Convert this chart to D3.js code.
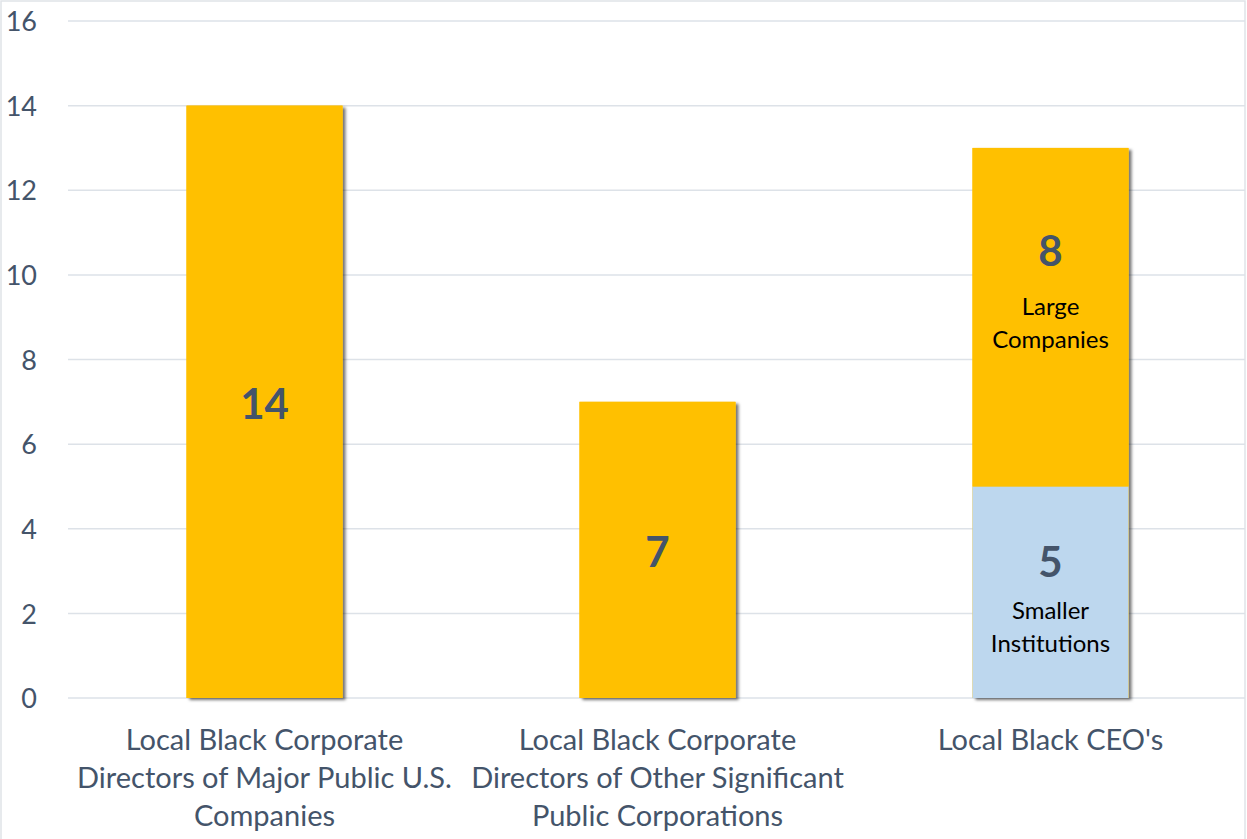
<!DOCTYPE html>
<html>
<head>
<meta charset="utf-8">
<script src="https://cdn.jsdelivr.net/npm/d3@7"></script>
<style>
  html, body { margin: 0; padding: 0; background: #fff; }
  svg { display: block; }
</style>
</head>
<body>
<svg id="chart" width="1247" height="839"></svg>
<script>
// Category labels (each entry is one wrapped line)
const categories = [
  ["Local Black Corporate", "Directors of Major Public U.S.", "Companies"],
  ["Local Black Corporate", "Directors of Other Significant", "Public Corporations"],
  ["Local Black CEO's"]
];
// Stacked series: lower segment then upper segment
const smallerValues = [0, 0, 5];
const upperValues = [14, 7, 8];
const yTicks = [0, 2, 4, 6, 8, 10, 12, 14, 16];
// Sub-labels shown inside the split bar
const upperNote = ["", "", "Large|Companies"];
const smallerNote = ["", "", "Smaller|Institutions"];

const svg = d3.select("#chart");
const W = 1247, H = 839;
const plot = { left: 68, right: 1247, top: 21, bottom: 698 };

const x = d3.scaleBand()
  .domain(d3.range(categories.length))
  .range([plot.left, plot.right])
  .paddingInner(0.603)
  .paddingOuter(0.3015);

const y = d3.scaleLinear().domain([0, 16]).range([plot.bottom, plot.top]);

const slate = "#44546A";
const font = "Lato, 'Open Sans', sans-serif";

// outer frame
svg.append("rect")
  .attr("x", 1).attr("y", 1).attr("width", W - 3).attr("height", H + 10)
  .attr("fill", "none").attr("stroke", "#dfe3e8").attr("stroke-width", 1.5);

// shadow filter for the bars
const defs = svg.append("defs");
const f = defs.append("filter").attr("id", "shadow")
  .attr("x", "-10%").attr("y", "-10%").attr("width", "130%").attr("height", "130%");
f.append("feDropShadow").attr("dx", 3).attr("dy", 2).attr("stdDeviation", 1.6)
  .attr("flood-color", "#000").attr("flood-opacity", 0.55);

// gridlines
svg.append("g").selectAll("line").data(yTicks).join("line")
  .attr("x1", plot.left).attr("x2", 1245)
  .attr("y1", d => y(d)).attr("y2", d => y(d))
  .attr("stroke", "#dde2e8").attr("stroke-width", 1.5);

// y axis labels
const yAxis = d3.axisLeft(y).tickValues(yTicks).tickSize(0).tickPadding(0);
const gy = svg.append("g").attr("transform", "translate(37,0)").call(yAxis);
gy.select(".domain").remove();
gy.selectAll("text")
  .attr("fill", slate).attr("font-family", font).attr("font-size", 27)
  .attr("dy", "0.36em");

// stacked data
const rows = categories.map((c, i) => ({ i, smaller: smallerValues[i], upper: upperValues[i] }));
const stack = d3.stack().keys(["smaller", "upper"])(rows);
const colors = { smaller: "#BDD7EE", upper: "#FFC000" };

const barG = svg.append("g");
// shadow drawn per whole bar
barG.selectAll("rect.sh").data(rows).join("rect")
  .attr("class", "sh")
  .attr("x", d => x(d.i)).attr("width", x.bandwidth())
  .attr("y", d => y(d.smaller + d.upper))
  .attr("height", d => y(0) - y(d.smaller + d.upper))
  .attr("fill", "#FFC000")
  .attr("filter", "url(#shadow)");

stack.forEach(s => {
  barG.selectAll(null).data(s.filter(d => d[1] > d[0])).join("rect")
    .attr("x", d => x(d.data.i)).attr("width", x.bandwidth())
    .attr("y", d => y(d[1])).attr("height", d => y(d[0]) - y(d[1]))
    .attr("fill", colors[s.key]);
});

// label block offsets (px from segment middle) and gap to the note text
const blockShift = { upper: -66, smaller: -30 };
const noteGap = { upper: 55, smaller: 48 };

// value labels
const labG = svg.append("g").attr("font-family", font).attr("text-anchor", "middle");
stack.forEach(s => {
  const notes = s.key === "upper" ? upperNote : smallerNote;
  s.filter(d => d[1] > d[0]).forEach(d => {
    const cx = x(d.data.i) + x.bandwidth() / 2;
    const val = d[1] - d[0];
    const note = notes[d.data.i];
    const mid = y((d[0] + d[1]) / 2);
    if (!note) {
      labG.append("text")
        .attr("x", cx).attr("y", mid + 2)
        .attr("dy", "0.36em")
        .attr("fill", slate).attr("font-weight", "bold").attr("font-size", 42)
        .text(val);
    } else {
      const top = mid + blockShift[s.key];
      labG.append("text")
        .attr("x", cx).attr("y", top)
        .attr("dy", "0.36em")
        .attr("fill", slate).attr("font-weight", "bold").attr("font-size", 42)
        .text(val);
      note.split("|").forEach((ln, k) => {
        labG.append("text")
          .attr("x", cx).attr("y", top + noteGap[s.key] + k * 33)
          .attr("dy", "0.36em")
          .attr("fill", "#000").attr("font-size", 24)
          .text(ln);
      });
    }
  });
});

// category axis labels
const catG = svg.append("g").attr("font-family", font).attr("font-size", 29)
  .attr("fill", slate).attr("text-anchor", "middle");
categories.forEach((lines, i) => {
  const cx = x(i) + x.bandwidth() / 2;
  lines.forEach((ln, k) => {
    catG.append("text").attr("x", cx).attr("y", 740 + k * 38)
      .attr("dy", "0.36em").text(ln);
  });
});
</script>
</body>
</html>
